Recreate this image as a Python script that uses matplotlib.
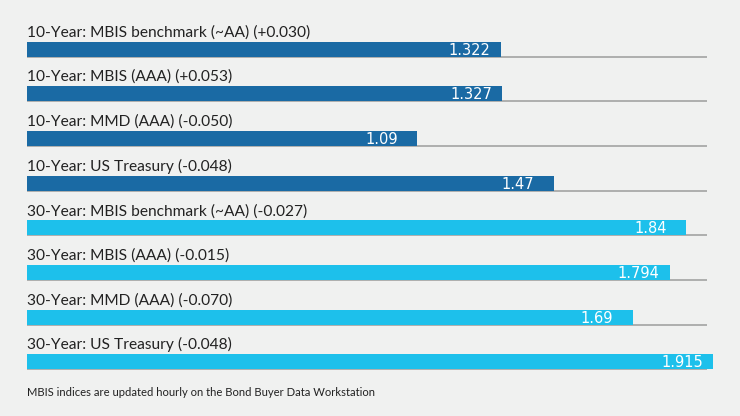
import matplotlib
matplotlib.use('Agg')
import matplotlib.pyplot as plt

labels = ["10-Year: MBIS benchmark (~AA) (+0.030)",
          "10-Year: MBIS (AAA) (+0.053)",
          "10-Year: MMD (AAA) (-0.050)",
          "10-Year: US Treasury (-0.048)",
          "30-Year: MBIS benchmark (~AA) (-0.027)",
          "30-Year: MBIS (AAA) (-0.015)",
          "30-Year: MMD (AAA) (-0.070)",
          "30-Year: US Treasury (-0.048)"]
values = [1.322, 1.327, 1.09, 1.47, 1.84, 1.794, 1.69, 1.915]
value_text = ["1.322", "1.327", "1.09", "1.47", "1.84", "1.794", "1.69", "1.915"]
colors = ["#1a6aa4"] * 4 + ["#1dc0eb"] * 4
note = "MBIS indices are updated hourly on the Bond Buyer Data Workstation"

bg = "#f0f1f0"
fig = plt.figure(figsize=(7.4, 4.16), dpi=100, facecolor=bg)
ax = fig.add_axes([26.7 / 740, 1 - 384.35 / 416, (707 - 26.7) / 740, 357.7 / 416])
ax.set_facecolor(bg)
ax.set_xlim(0, (707 - 26.7) / 358.5)
ax.set_ylim(7.5, -0.5)
ax.axis('off')

h = 15 / 44.7
for i, (v, c) in enumerate(zip(values, colors)):
    ax.barh(i, v, height=h, color=c, clip_on=False, zorder=2)
    ax.plot([0, ax.get_xlim()[1]], [i + h / 2, i + h / 2], color="#a3a3a3", lw=1.2, zorder=1)
    ax.text(0, i - h / 2 - 5 / 44.7, labels[i], fontsize=11.2, family="Lato",
            color="#222222", va='baseline', ha='left')
    ax.annotate(value_text[i], xy=(v, i), xytext=(-52, -5.5), textcoords='offset pixels',
                ha='left', va='baseline', color='white', fontsize=10.5,
                family="DejaVu Sans", zorder=3, annotation_clip=False)

fig.text(27 / 740, 1 - 393 / 416, note, fontsize=8.1, family="Lato", color="#222222",
         va='center', ha='left')

plt.savefig('out.png', facecolor=bg)
